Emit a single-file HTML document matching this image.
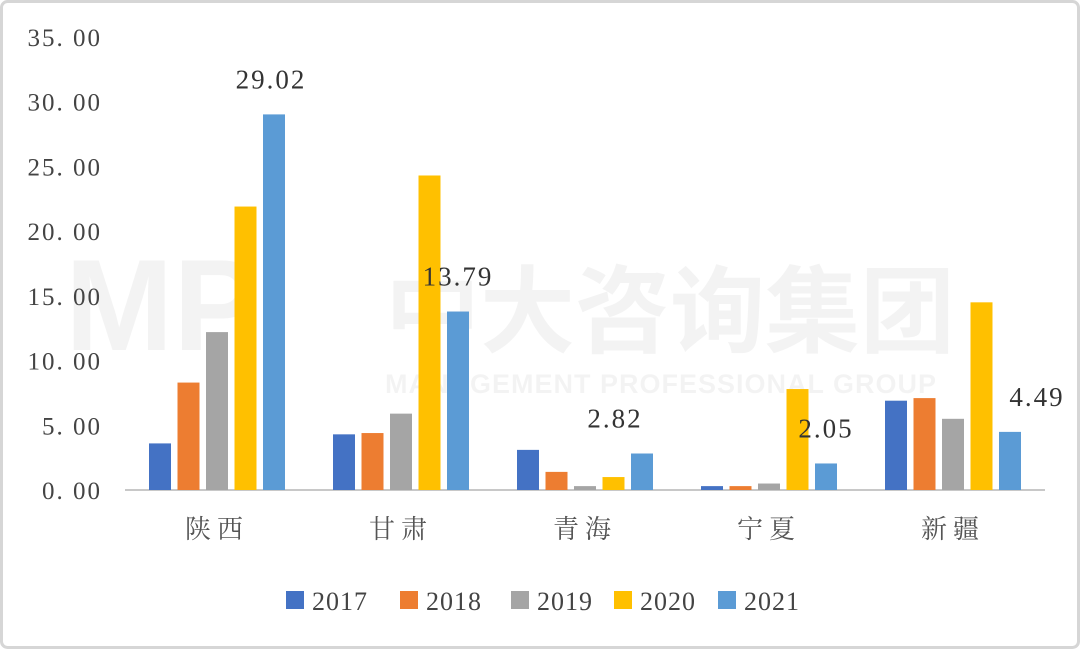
<!DOCTYPE html>
<html><head><meta charset="utf-8"><style>
body{margin:0;background:#fff;}
svg{display:block;font-family:"Liberation Serif","Noto Serif CJK SC",serif;}
</style></head><body>
<svg width="1080" height="649" viewBox="0 0 1080 649" id="c">
<rect x="1.5" y="1.5" width="1077" height="646" rx="6" fill="#fff" stroke="#d6d6d6" stroke-width="3"/>
<g opacity="0.045" font-family="Liberation Sans,Noto Sans CJK SC,sans-serif" font-weight="bold">
<text x="65" y="350" font-size="130" fill="#000">MP</text>
<text x="385" y="345" font-size="95" fill="#000">中大咨询集团</text>
<text x="385" y="393" font-size="27" fill="#000" letter-spacing="1">MANAGEMENT PROFESSIONAL GROUP</text>
</g>
<g id="axis"></g><g id="bars"></g><g id="legend"></g>
</svg>
<script>
const categories=["陕西","甘肃","青海","宁夏","新疆"];
const seriesNames=["2017","2018","2019","2020","2021"];
const s2017=[3.6,4.3,3.1,0.3,6.9];
const s2018=[8.3,4.4,1.4,0.3,7.1];
const s2019=[12.2,5.9,0.3,0.5,5.5];
const s2020=[21.9,24.3,1.0,7.8,14.5];
const s2021=[29.02,13.79,2.82,2.05,4.49];
const labels2021=["29.02","13.79","2.82","2.05","4.49"];
const ticks=[0,5,10,15,20,25,30,35];
const colors=["#4472C4","#ED7D31","#A5A5A5","#FFC000","#5B9BD5"];
const series=[s2017,s2018,s2019,s2020,s2021];
const labelDx=[-3,0,-27,0,27];
const NS="http://www.w3.org/2000/svg";
const y0=490,y1=37,vmax=35,x0=125,x1=1045;
const y=v=>y0-(v/vmax)*(y0-y1);
const gw=(x1-x0)/categories.length;
const cx=i=>x0+gw*(i+0.5);
const bw=22,step=28.5;
function mk(t,p,a){const e=document.createElementNS(NS,t);for(const k in a)e.setAttribute(k,a[k]);p.appendChild(e);return e;}
const ax=document.getElementById('axis');
ticks.forEach(t=>{const e=mk('text',ax,{x:102,y:y(t)+9,'text-anchor':'end','font-size':25,fill:'#444','letter-spacing':'2'});


e.textContent=t.toFixed(2).replace('.','. ');});
const bl=mk('line',ax,{x1:x0,x2:x1,y1:y0,y2:y0,stroke:'#c8c8c8','stroke-width':2});


categories.forEach((c,i)=>{const e=mk('text',ax,{x:cx(i),y:538,'text-anchor':'middle','font-size':26,fill:'#555','letter-spacing':'6'});


e.textContent=c;});
const bg=document.getElementById('bars');
categories.forEach((c,i)=>{series.forEach((s,k)=>{const x=cx(i)+(k-2)*step-bw/2;
const r=mk('rect',bg,{x:x,y:y(s[i]),width:bw,height:y0-y(s[i]),fill:colors[k]});


if(k===4){const t=mk('text',bg,{x:x+bw/2+labelDx[i],y:y(s[i])-26,'text-anchor':'middle','font-size':27,fill:'#333','letter-spacing':'2'});


t.textContent=labels2021[i];}});});
const lg=document.getElementById('legend');
const lx=[286,400,511,614,718];
seriesNames.forEach((n,k)=>{const r=mk('rect',lg,{x:lx[k],y:591,width:18,height:18,fill:colors[k]});


const t=mk('text',lg,{x:lx[k]+26,y:610,'font-size':26,fill:'#444','letter-spacing':'1'});


t.textContent=n;});
</script>
</body></html>
